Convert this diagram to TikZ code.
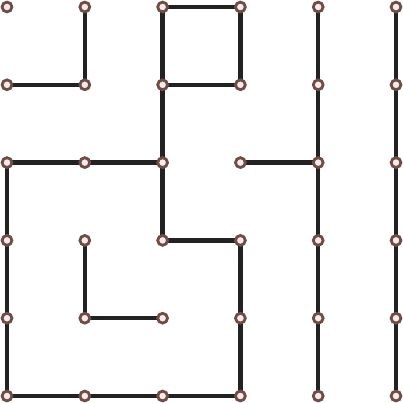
\documentclass[tikz,border=0pt]{standalone}
\usetikzlibrary{backgrounds}
\definecolor{ptborder}{HTML}{6E4E44}
\definecolor{ptfill}{HTML}{FDEAF0}
\definecolor{edgecol}{HTML}{222222}
\begin{document}
\begin{tikzpicture}[x=1pt,y=-1pt,
  pt/.style={circle,draw=ptborder,fill=ptfill,line width=2.8pt,minimum size=9.8pt,inner sep=0pt},
  edge/.style={draw=edgecol,line width=4.4pt}]
\useasboundingbox (0,0) rectangle (403,403);
\foreach \i in {0,...,5}{
  \foreach \j in {0,...,5}{
    \node[pt] (p-\i-\j) at ({7+77.8*\i},{7+77.8*\j}) {};
  }
}
\begin{scope}[on background layer]
\draw[edge] (p-2-0.center) -- (p-3-0.center);
\draw[edge] (p-1-0.center) -- (p-1-1.center) -- (p-0-1.center);
\draw[edge] (p-3-0.center) -- (p-3-1.center) -- (p-2-1.center);
\draw[edge] (p-2-0.center) -- (p-2-1.center) -- (p-2-2.center) -- (p-2-3.center) -- (p-3-3.center) -- (p-3-4.center) -- (p-3-5.center);
\draw[edge] (p-4-0.center) -- (p-4-5.center);
\draw[edge] (p-5-0.center) -- (p-5-5.center);
\draw[edge] (p-2-2.center) -- (p-1-2.center) -- (p-0-2.center) -- (p-0-5.center) -- (p-3-5.center);
\draw[edge] (p-3-2.center) -- (p-4-2.center);
\draw[edge] (p-1-3.center) -- (p-1-4.center) -- (p-2-4.center);
\end{scope}
\end{tikzpicture}
\end{document}
